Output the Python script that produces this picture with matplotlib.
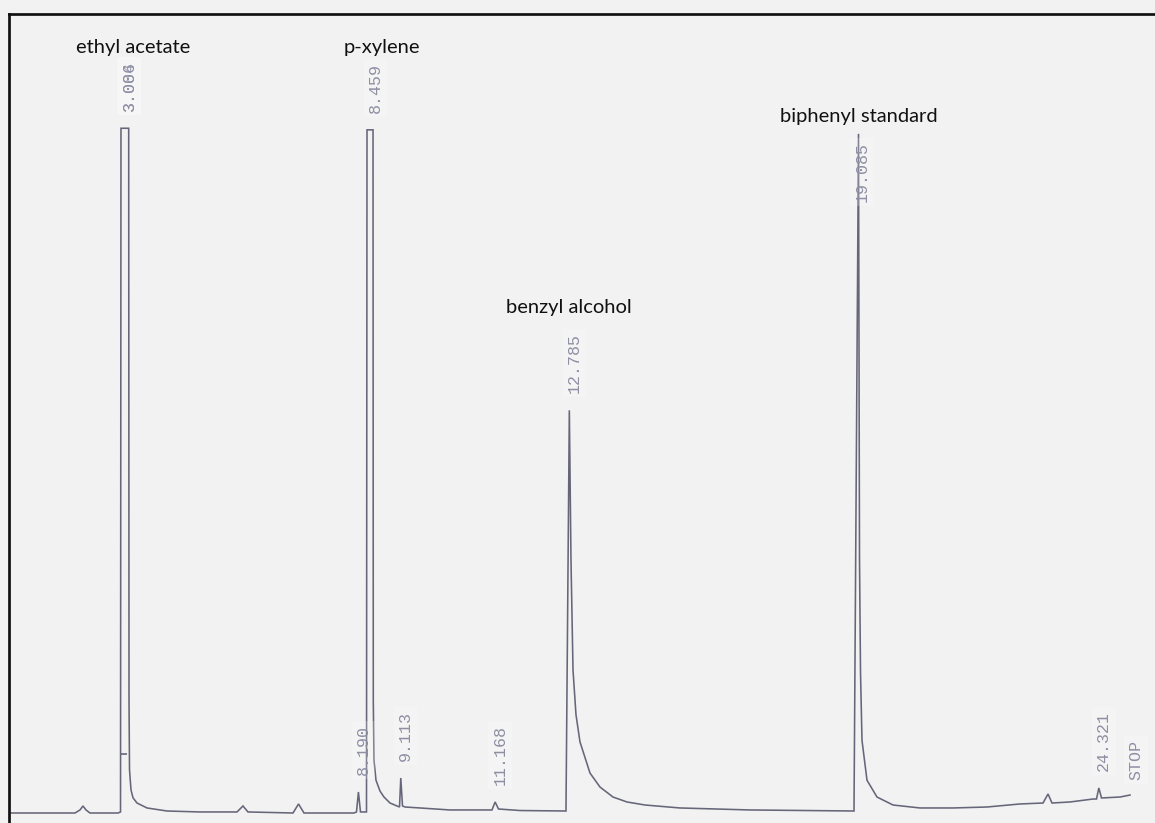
"""Gas chromatogram of the crude reaction mixture with integrator retention times."""

import matplotlib.pyplot as plt
import numpy as np

# Detector trace (time in min, response in % of recorder full scale).
TRACE_TIME = [
    0.599, 2.015, 2.124, 2.190, 2.255, 2.342, 2.952, 3.007,
    3.017, 3.185, 3.192, 3.203, 3.235, 3.279, 3.366, 3.584, 4.020, 4.739,
    5.545, 5.675, 5.784, 6.765, 6.885, 7.004, 8.094,
    8.148, 8.235, 8.366, 8.377, 8.508, 8.514, 8.529, 8.573, 8.660, 8.747, 8.878, 9.030, 9.085,
    9.150, 9.205, 9.532, 10.185, 11.100, 11.242, 11.710, 12.712,
    12.821, 12.865, 12.930, 13.017, 13.235, 13.453, 13.736, 14.041, 14.434, 15.196, 16.721, 18.987,
    19.107, 19.129, 19.161, 19.270, 19.488, 19.837, 20.425, 21.144, 21.885, 22.603,
    23.105, 23.214, 23.301, 23.693, 24.194, 24.270,
    24.379, 24.782, 25.000,
]
TRACE_RESPONSE = [
    0.0, 0.0, 0.38, 0.88, 0.38, 0.0, 0.0, 0.13,
    85.7, 85.7, 14.1, 5.4, 2.9, 1.9, 1.25, 0.63, 0.25, 0.13,
    0.13, 0.88, 0.13, 0.0, 1.13, 0.0, 0.0,
    0.13, 0.13, 0.13, 85.5, 85.5, 14.1, 6.6, 4.1, 2.75, 2.0, 1.25, 0.88, 0.75,
    0.88, 0.75, 0.63, 0.38, 0.38, 0.5, 0.31, 0.25,
    31.7, 17.9, 12.3, 8.9, 5.0, 3.25, 2.0, 1.38, 1.0, 0.63, 0.38, 0.25,
    31.7, 17.5, 9.1, 4.1, 2.0, 1.0, 0.63, 0.63, 0.75, 1.13,
    1.25, 2.38, 1.25, 1.38, 1.75, 1.75,
    1.88, 2.0, 2.25,
]

# Integrated peaks: retention time (min) and apex response.
PEAK_RT = [3.084, 8.190, 8.459, 9.113, 11.168, 12.785, 19.085, 24.321]
PEAK_HEIGHT = [85.7, 2.63, 85.5, 4.38, 1.38, 50.4, 85.0, 3.13]

# Second time printed over the ethyl acetate label.
OVERPRINT_RT = [3.006]

COMPOUNDS = ["ethyl acetate", "p-xylene", "benzyl alcohol", "biphenyl standard"]
COMPOUND_RT = [3.084, 8.459, 12.785, 19.085]

# Integrator event tick on the solvent peak.
EVENT_TIME = 3.08
EVENT_LEVEL = 7.4

PAPER = "#f2f2f2"
PEN = "#66667a"
PRINT = "#8e8ea4"
PX = 0.72  # points per pixel at 100 dpi

# label offsets in pixels (dx, dy) from the peak apex
NAME_OFFSETS = {
    "ethyl acetate": (9, 75),
    "p-xylene": (11, 77),
    "benzyl alcohol": (0, 97),
    "biphenyl standard": (0, 12),
}


def rt_label(ax, x, y, text, dx=5, dy=17, va="bottom"):
    ax.annotate(
        text, xy=(x, y), xytext=(dx * PX, dy * PX), textcoords="offset points",
        rotation=90, ha="center", va=va, family="Liberation Mono", fontsize=12,
        color=PRINT, annotation_clip=False,
        bbox=dict(boxstyle="square,pad=0.25", fc="white", ec="none", alpha=0.2),
    )


fig = plt.figure(figsize=(11.55, 8.23), dpi=100, facecolor=PAPER)
ax = fig.add_axes([8.7 / 1155, 0.0, 1 - 8.7 / 1155, (823 - 13.8) / 823])
ax.set_facecolor(PAPER)

# apexes go into the trace so each labelled time is a vertex
t = np.concatenate([TRACE_TIME, PEAK_RT])
r = np.concatenate([TRACE_RESPONSE, PEAK_HEIGHT])
order = np.argsort(t, kind="stable")
ax.plot(t[order], r[order], color=PEN, lw=1.15, solid_joinstyle="miter")
ax.plot([EVENT_TIME], [EVENT_LEVEL], marker="_", ms=4, mew=1.2, color=PEN)

for rt, h in zip(PEAK_RT, PEAK_HEIGHT):
    if rt == 19.085:
        rt_label(ax, rt, h, f"{rt:.3f}", dx=3.5, dy=-8, va="top")
    else:
        rt_label(ax, rt, h, f"{rt:.3f}")
for rt in OVERPRINT_RT:
    h = PEAK_HEIGHT[PEAK_RT.index(3.084)]
    rt_label(ax, 3.084, h, f"{rt:.3f}")
rt_label(ax, TRACE_TIME[-1], TRACE_RESPONSE[-1], "STOP", dx=6, dy=15)

for name, rt in zip(COMPOUNDS, COMPOUND_RT):
    h = PEAK_HEIGHT[PEAK_RT.index(rt)]
    dx, dy = NAME_OFFSETS[name]
    ax.annotate(
        name, xy=(rt, h), xytext=(dx * PX, dy * PX), textcoords="offset points",
        ha="center", va="baseline", family="Lato", fontsize=14.5, color="#111111",
        annotation_clip=False,
    )

ax.set_xlim((8.7 + 17.5) / 45.9, (1155 + 17.5) / 45.9)
ax.set_ylim((813 - 823) / 7.99, (813 - 13.8) / 7.99)
ax.set_xticks([])
ax.set_yticks([])
for side in ("right", "bottom"):
    ax.spines[side].set_visible(False)
for side in ("left", "top"):
    ax.spines[side].set_linewidth(1.95)
    ax.spines[side].set_color("#111111")

fig.savefig("out.png", dpi=100, facecolor=PAPER)
